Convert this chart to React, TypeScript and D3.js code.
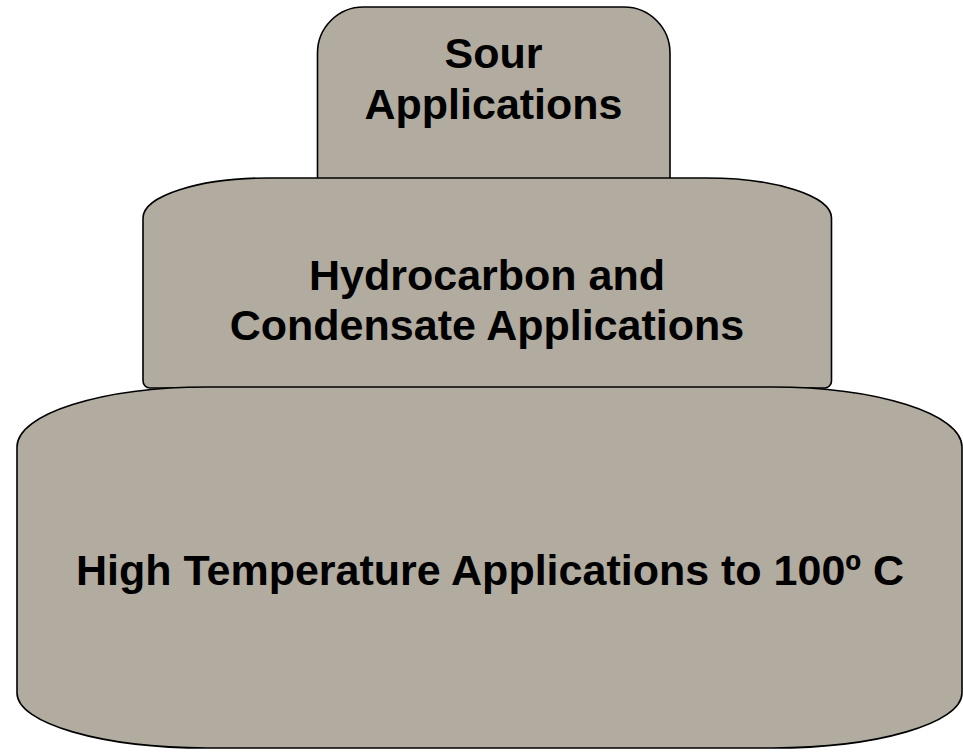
import * as d3 from 'd3';
import { useEffect, useRef } from 'react';

// tiers, top to bottom
const tierNames = ['sour', 'hydrocarbon', 'hightemp'];
const tierLabels = [
  ['Sour', 'Applications'],
  ['Hydrocarbon and', 'Condensate Applications'],
  ['High Temperature Applications to 100º C'],
];

const width = 963;
const height = 752;
const fill = '#b1ac9f';

// geometry of each tier (pixels)
const layout = [
  { x0: 317.5, x1: 670, y0: 7, y1: 180, trx: 46, tr: 46, brx: 0, bry: 0, cx: 493.5, base: 68, lead: 51 },
  { x0: 143, x1: 831.5, y0: 178, y1: 388, trx: 125, tr: 40, brx: 7, bry: 7, cx: 487, base: 290, lead: 50 },
  { x0: 17, x1: 962, y0: 387, y1: 748, trx: 190, tr: 60, brx: 190, bry: 55, cx: 490, base: 585, lead: 50 },
];

const K = 0.5523; // bezier ellipse constant

function tierPath(g) {
  const p = d3.path();
  const { x0, x1, y0, y1, trx, tr, brx, bry } = g;
  p.moveTo(x0, y0 + tr);
  p.bezierCurveTo(x0, y0 + tr - tr * K, x0 + trx - trx * K, y0, x0 + trx, y0);
  p.lineTo(x1 - trx, y0);
  p.bezierCurveTo(x1 - trx + trx * K, y0, x1, y0 + tr - tr * K, x1, y0 + tr);
  p.lineTo(x1, y1 - bry);
  if (brx > 0) p.bezierCurveTo(x1, y1 - bry + bry * K, x1 - brx + brx * K, y1, x1 - brx, y1);
  p.lineTo(x0 + brx, y1);
  if (brx > 0) p.bezierCurveTo(x0 + brx - brx * K, y1, x0, y1 - bry + bry * K, x0, y1 - bry);
  p.closePath();
  return p.toString();
}

export default function App() {
  const ref = useRef<SVGSVGElement | null>(null);

  useEffect(() => {
    const svg = d3.select(ref.current);
    svg.selectAll('*').remove();

    const g = svg
      .selectAll('g.tier')
      .data(tierNames)
      .join('g')
      .attr('class', 'tier');

    g.append('path')
      .attr('d', (_, i) => tierPath(layout[i]))
      .attr('fill', fill)
      .attr('stroke', '#000')
      .attr('stroke-width', 1.6);

    g.append('text')
      .attr('font-family', '"Liberation Sans", Arial, sans-serif')
      .attr('font-weight', 'bold')
      .attr('font-size', 43)
      .attr('text-anchor', 'middle')
      .attr('fill', '#000')
      .selectAll('tspan')
      .data((_, i) => tierLabels[i].map((t, j) => ({ t, j, i })))
      .join('tspan')
      .attr('x', (d) => layout[d.i].cx)
      .attr('y', (d) => layout[d.i].base + d.j * layout[d.i].lead)
      .text((d) => d.t);
  }, []);

  return (
    <svg
      ref={ref}
      width={width}
      height={height}
      style={{ position: 'absolute', left: 0, top: 0, background: '#fff' }}
    />
  );
}
